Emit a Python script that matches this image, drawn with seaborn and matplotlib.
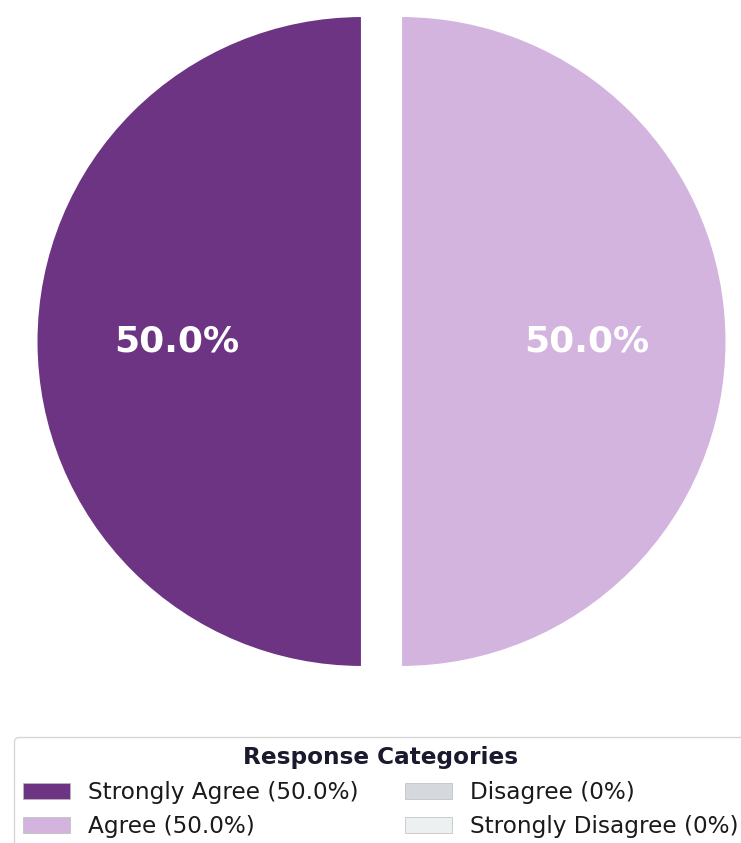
import matplotlib
matplotlib.use("Agg")
import matplotlib.pyplot as plt
import seaborn as sns
from matplotlib.patches import Patch

categories = ["Strongly Agree", "Agree", "Disagree", "Strongly Disagree"]
percentages = [50.0, 50.0, 0.0, 0.0]
legend_labels = ["Strongly Agree (50.0%)", "Agree (50.0%)", "Disagree (0%)", "Strongly Disagree (0%)"]
colors = ["#6C3483", "#D2B4DE", "#D5D8DC", "#ECF0F1"]

sns.set_theme(style="white")
plt.rcParams["font.family"] = ["DejaVu Sans"]

W, H = 741, 843
fig = plt.figure(figsize=(W / 100, H / 100), dpi=100)
ax = fig.add_axes([0, 0, 1, 1])

# only non-zero shares get a wedge
shown = [(c, v, col) for c, v, col in zip(categories, percentages, colors) if v > 0]
vals = [v for _, v, _ in shown]
cols = [col for _, _, col in shown]

wedges, texts, autotexts = ax.pie(
    vals,
    colors=cols,
    startangle=90,
    explode=[0.06] * len(vals),
    autopct="%1.1f%%",
    pctdistance=0.57,
    wedgeprops=dict(edgecolor="white", linewidth=1.5),
    textprops=dict(color="white", fontsize=26, fontweight="bold"),
)

# place the pie within the figure
scale = 325.5
cx, cy = 381.5, 341.5
ax.set_xlim(-cx / scale, (W - cx) / scale)
ax.set_ylim((cy - H) / scale, cy / scale)
ax.set_aspect("auto")
ax.axis("off")

handles = [Patch(facecolor=c, edgecolor="#bbbbbb", linewidth=0.5) for c in colors]
leg = fig.legend(
    handles,
    legend_labels,
    title="Response Categories",
    ncol=2,
    loc="upper center",
    bbox_to_anchor=(381 / W, 1 - 737 / H),
    bbox_transform=fig.transFigure,
    borderaxespad=0,
    fontsize=16.7,
    title_fontproperties=dict(weight="bold", size=16.7),
    frameon=True,
    labelspacing=0.5,
    labelcolor="#1a1a1a",
)
leg.get_frame().set_edgecolor("#cccccc")
leg.get_frame().set_facecolor("white")
leg.get_title().set_color("#1a1a2e")

fig.savefig("out.png", dpi=100)
